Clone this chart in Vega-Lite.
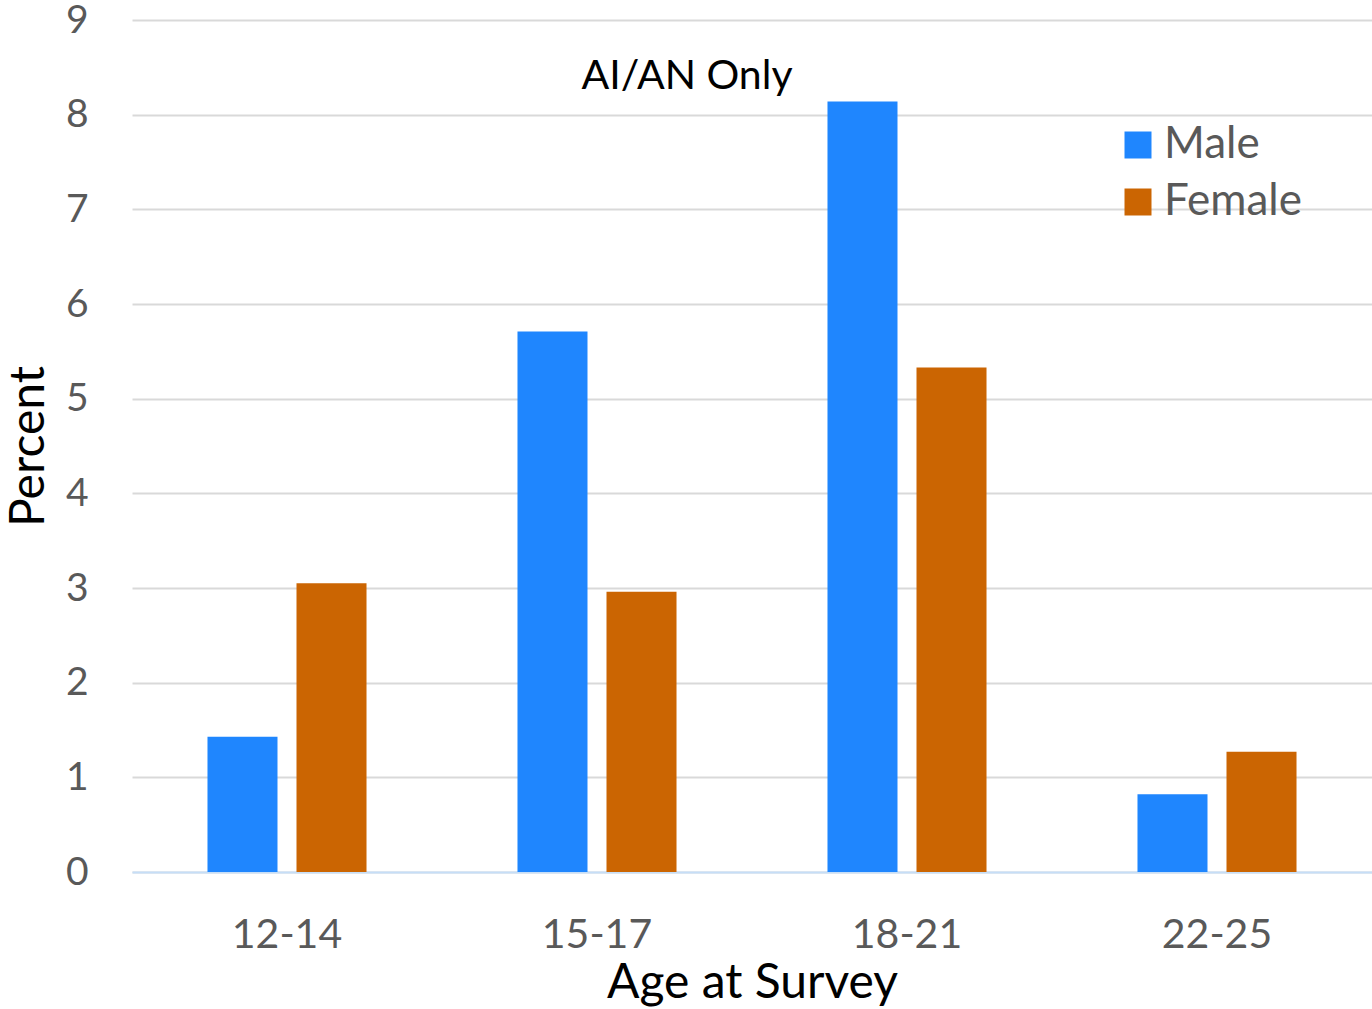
{
  "$schema": "https://vega.github.io/schema/vega-lite/v6.json",
  "width": 1240,
  "height": 852,
  "autosize": {"type": "none"},
  "padding": {"left": 132, "top": 20, "right": 0, "bottom": 137},
  "background": "white",
  "config": {
    "font": "Lato",
    "view": {"stroke": null}
  },
  "title": {
    "text": "AI/AN Only",
    "anchor": "middle",
    "frame": "group",
    "orient": "top",
    "offset": -97,
    "dx": -65,
    "fontSize": 41,
    "fontWeight": "normal",
    "color": "#000000",
    "font": "Lato"
  },
  "data": {
    "values": [
      {"age": "12-14", "sex": "Male", "percent": 1.43},
      {"age": "12-14", "sex": "Female", "percent": 3.05},
      {"age": "15-17", "sex": "Male", "percent": 5.71},
      {"age": "15-17", "sex": "Female", "percent": 2.96},
      {"age": "18-21", "sex": "Male", "percent": 8.14},
      {"age": "18-21", "sex": "Female", "percent": 5.33},
      {"age": "22-25", "sex": "Male", "percent": 0.82},
      {"age": "22-25", "sex": "Female", "percent": 1.27}
    ]
  },
  "mark": {"type": "bar"},
  "encoding": {
    "x": {
      "field": "age",
      "type": "nominal",
      "sort": ["12-14", "15-17", "18-21", "22-25"],
      "scale": {"paddingInner": 0.487, "paddingOuter": 0.2435},
      "axis": {
        "title": "Age at Survey",
        "titleFontSize": 48,
        "titleFontWeight": "normal",
        "titleColor": "#000000",
        "titlePadding": 4,
        "labelAngle": 0,
        "labelFontSize": 41,
        "labelColor": "#595959",
        "labelPadding": 43,
        "ticks": false,
        "domainColor": "#c6def7",
        "domainWidth": 2
      }
    },
    "xOffset": {
      "field": "sex",
      "type": "nominal",
      "sort": ["Male", "Female"],
      "scale": {"paddingInner": 0.2135, "paddingOuter": 0}
    },
    "y": {
      "field": "percent",
      "type": "quantitative",
      "scale": {"domain": [0, 9], "nice": false},
      "axis": {
        "title": "Percent",
        "titleFontSize": 48,
        "titleFontWeight": "normal",
        "titleColor": "#000000",
        "titlePadding": 12,
        "values": [0, 1, 2, 3, 4, 5, 6, 7, 8, 9],
        "labelFontSize": 39,
        "labelColor": "#595959",
        "labelPadding": 44,
        "ticks": false,
        "domain": false,
        "gridColor": "#d9d9d9",
        "gridWidth": 2
      }
    },
    "color": {
      "field": "sex",
      "type": "nominal",
      "sort": ["Male", "Female"],
      "scale": {"domain": ["Male", "Female"], "range": ["#1f86fe", "#cb6502"]},
      "legend": {
        "title": null,
        "orient": "none",
        "legendX": 984,
        "legendY": 103,
        "symbolType": "square",
        "symbolSize": 729,
        "symbolStrokeWidth": 0,
        "labelFontSize": 44,
        "labelColor": "#595959",
        "labelOffset": 4,
        "rowPadding": 13
      }
    }
  }
}
